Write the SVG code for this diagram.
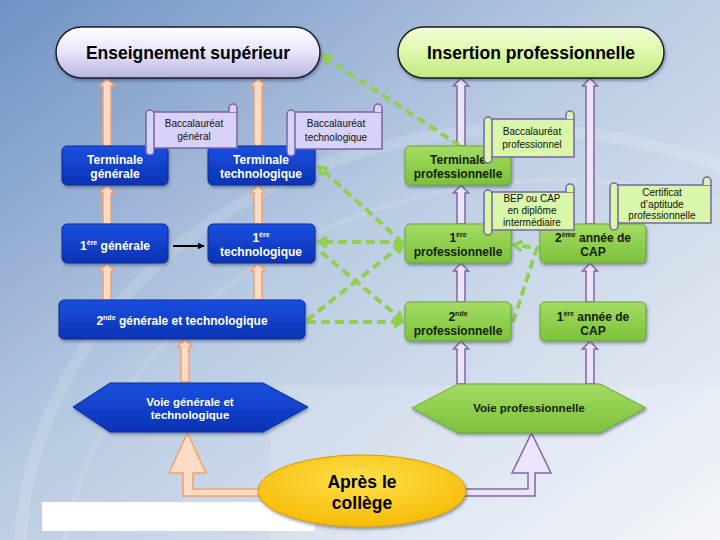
<svg xmlns="http://www.w3.org/2000/svg" width="720" height="540" viewBox="0 0 720 540">
<defs>
  <linearGradient id="bg" x1="0" y1="0" x2="1" y2="1">
    <stop offset="0" stop-color="#6f92c4"/>
    <stop offset="0.45" stop-color="#b9cbe2"/>
    <stop offset="1" stop-color="#f2f5f9"/>
  </linearGradient>
  <linearGradient id="gBlue" x1="0" y1="0" x2="0" y2="1">
    <stop offset="0" stop-color="#1a4fe0"/>
    <stop offset="1" stop-color="#0a33b4"/>
  </linearGradient>
  <linearGradient id="gGreen" x1="0" y1="0" x2="0" y2="1">
    <stop offset="0" stop-color="#a4dc62"/>
    <stop offset="1" stop-color="#7cc23c"/>
  </linearGradient>
  <linearGradient id="gLav" x1="0" y1="0" x2="0" y2="1">
    <stop offset="0" stop-color="#ffffff"/>
    <stop offset="0.5" stop-color="#e6e4fa"/>
    <stop offset="1" stop-color="#b8b4e0"/>
  </linearGradient>
  <linearGradient id="gLime" x1="0" y1="0" x2="0" y2="1">
    <stop offset="0" stop-color="#f4ffd8"/>
    <stop offset="0.5" stop-color="#ddf8a8"/>
    <stop offset="1" stop-color="#bfe880"/>
  </linearGradient>
  <radialGradient id="gYellow" cx="0.5" cy="0.35" r="0.7">
    <stop offset="0" stop-color="#ffe04a"/>
    <stop offset="1" stop-color="#f6b800"/>
  </radialGradient>
  <filter id="sh" x="-10%" y="-10%" width="130%" height="140%">
    <feDropShadow dx="1" dy="2" stdDeviation="1.5" flood-color="#203050" flood-opacity="0.45"/>
  </filter>
  <marker id="gh" viewBox="0 0 12 12" refX="10" refY="6" markerWidth="12" markerHeight="12" markerUnits="userSpaceOnUse" orient="auto">
    <path d="M2,1 L10,6 L2,11" fill="none" stroke="#8fd050" stroke-width="3.5" stroke-linejoin="miter"/>
  </marker>
  <marker id="bh" viewBox="0 0 10 10" refX="9" refY="5" markerWidth="7" markerHeight="7" markerUnits="userSpaceOnUse" orient="auto">
    <path d="M0,0 L10,5 L0,10 Z" fill="#000"/>
  </marker>
  <style>
    .blue{fill:url(#gBlue);stroke:#0a2a9a;stroke-width:1;filter:url(#sh)}
    .green{fill:url(#gGreen);stroke:#6aa830;stroke-width:1;filter:url(#sh)}
    .tw{font-family:"Liberation Sans",Arial,sans-serif;font-weight:bold;font-size:12px;fill:#ffffff;text-anchor:middle}
    .tg{font-family:"Liberation Sans",Arial,sans-serif;font-weight:bold;font-size:12px;fill:#14200a;text-anchor:middle}
    .th{font-family:"Liberation Sans",Arial,sans-serif;font-weight:bold;font-size:17.5px;fill:#000;text-anchor:middle}
    .ts{font-family:"Liberation Sans Narrow","Liberation Sans",Arial,sans-serif;font-size:10px;fill:#111;text-anchor:middle}
    .scL{fill:#d6d2f8;stroke:#7a62a6;stroke-width:1.5}
    .scG{fill:#d8f7a8;stroke:#7a62a6;stroke-width:1.5}
    .oa{fill:#fcdcc6;stroke:#f2a070;stroke-width:1.5}
    .pa{fill:#ebe4fa;stroke:#8066a8;stroke-width:1.5}
    .gd{fill:none;stroke:#8fd050;stroke-width:4;stroke-dasharray:9 5}
  </style>
</defs>

<!-- background -->
<rect width="720" height="540" fill="url(#bg)"/>
<ellipse cx="520" cy="560" rx="500" ry="430" fill="none" stroke="#ffffff" stroke-opacity="0.14" stroke-width="12"/>
<ellipse cx="560" cy="600" rx="500" ry="420" fill="none" stroke="#ffffff" stroke-opacity="0.1" stroke-width="5"/>
<rect x="270" y="386" width="450" height="154" fill="#ffffff" opacity="0.15"/>
<rect x="42" y="502" width="273" height="29" fill="#ffffff"/>

<!-- connectors -->
<g id="connectors">
  <!-- orange hollow arrows -->
  <path class="oa" d="M103,146 V86 H99.5 L107,78 L114.5,86 H111 V146 Z"/>
  <path class="oa" d="M254,146 V86 H250.5 L258,78 L265.5,86 H262 V146 Z"/>
  <path class="oa" d="M103,224 V193 H99.5 L107,185 L114.5,193 H111 V224 Z"/>
  <path class="oa" d="M254,224 V193 H250.5 L258,185 L265.5,193 H262 V224 Z"/>
  <path class="oa" d="M103,300 V271 H99.5 L107,263 L114.5,271 H111 V300 Z"/>
  <path class="oa" d="M254,300 V271 H250.5 L258,263 L265.5,271 H262 V300 Z"/>
  <path class="oa" d="M181,382 V347 H177.5 L185,339 L192.5,347 H189 V382 Z"/>
  <path class="oa" d="M262,489 H193 V473 H206 L187.5,433 L169,473 H183 V496 H262 Z"/>
  <!-- purple hollow arrows -->
  <path class="pa" d="M457,146 V86 H453.5 L461,78 L468.5,86 H465 V146 Z"/>
  <path class="pa" d="M586,224 V86 H582.5 L590,78 L597.5,86 H594 V224 Z"/>
  <path class="pa" d="M457,224 V193 H453.5 L461,185 L468.5,193 H465 V224 Z"/>
  <path class="pa" d="M457,302 V271 H453.5 L461,263 L468.5,271 H465 V302 Z"/>
  <path class="pa" d="M586,302 V271 H582.5 L590,263 L597.5,271 H594 V302 Z"/>
  <path class="pa" d="M457,384 V349 H453.5 L461,341 L468.5,349 H465 V384 Z"/>
  <path class="pa" d="M586,384 V349 H582.5 L590,341 L597.5,349 H594 V384 Z"/>
  <path class="pa" d="M465,489 H528 V473 H512 L531.5,433 L551,473 H535 V496 H465 Z"/>
  <!-- black arrow -->
  <line x1="173" y1="246" x2="204" y2="246" stroke="#000" stroke-width="2" marker-end="url(#bh)"/>
  <!-- green dashed -->
  <path class="gd" d="M460,146 L323,56" marker-end="url(#gh)"/>
  <path class="gd" d="M403,243 L319,167" marker-end="url(#gh)"/>
  <path class="gd" d="M403,242 L319,242" marker-end="url(#gh)"/>
  <path class="gd" d="M307,320 L402,245" marker-end="url(#gh)"/>
  <path class="gd" d="M307,322 L402,322" marker-end="url(#gh)"/>
  <path class="gd" d="M321,252 L402,320" marker-end="url(#gh)"/>
  <path class="gd" d="M513,322 L537,248 L514,245" marker-end="url(#gh)"/>
</g>

<!-- heading pills -->
<g id="ens-sup">
  <rect x="56" y="27" width="264" height="51" rx="25.5" fill="url(#gLav)" stroke="#1a1a2a" stroke-width="1.5" filter="url(#sh)"/>
  <text class="th" x="188" y="59">Enseignement supérieur</text>
</g>
<g id="insertion">
  <rect x="398" y="27" width="266" height="51" rx="25.5" fill="url(#gLime)" stroke="#1a1a1a" stroke-width="1.5" filter="url(#sh)"/>
  <text class="th" x="531" y="59">Insertion professionnelle</text>
</g>

<!-- blue nodes -->
<g id="term-gen">
  <rect class="blue" x="62" y="146" width="106" height="39" rx="5"/>
  <text class="tw" x="115" y="164">Terminale</text>
  <text class="tw" x="115" y="178">générale</text>
</g>
<g id="term-tech">
  <rect class="blue" x="208" y="146" width="107" height="39" rx="5"/>
  <text class="tw" x="261" y="164">Terminale</text>
  <text class="tw" x="261" y="178">technologique</text>
</g>
<g id="prem-gen">
  <rect class="blue" x="62" y="224" width="106" height="39" rx="5"/>
  <text class="tw" x="115" y="250">1<tspan font-size="7" dy="-5">ère</tspan><tspan dy="5"> générale</tspan></text>
</g>
<g id="prem-tech">
  <rect class="blue" x="208" y="224" width="107" height="39" rx="5"/>
  <text class="tw" x="261" y="242">1<tspan font-size="7" dy="-5">ère</tspan></text>
  <text class="tw" x="261" y="256">technologique</text>
</g>
<g id="seconde-gt">
  <rect class="blue" x="59" y="300" width="246" height="39" rx="5"/>
  <text class="tw" x="182" y="325">2<tspan font-size="7" dy="-5">nde</tspan><tspan dy="5"> générale et technologique</tspan></text>
</g>

<!-- green nodes -->
<g id="term-pro">
  <rect class="green" x="405" y="146" width="106" height="39" rx="5"/>
  <text class="tg" x="458" y="164">Terminale</text>
  <text class="tg" x="458" y="178">professionnelle</text>
</g>
<g id="prem-pro">
  <rect class="green" x="405" y="224" width="106" height="39" rx="5"/>
  <text class="tg" x="458" y="242">1<tspan font-size="7" dy="-5">ère</tspan></text>
  <text class="tg" x="458" y="256">professionnelle</text>
</g>
<g id="seconde-pro">
  <rect class="green" x="405" y="302" width="106" height="39" rx="5"/>
  <text class="tg" x="458" y="321">2<tspan font-size="7" dy="-5">nde</tspan></text>
  <text class="tg" x="458" y="335">professionnelle</text>
</g>
<g id="cap2">
  <rect class="green" x="540" y="224" width="106" height="39" rx="5"/>
  <text class="tg" x="593" y="242">2<tspan font-size="7" dy="-5">ème</tspan><tspan dy="5"> année de</tspan></text>
  <text class="tg" x="593" y="256">CAP</text>
</g>
<g id="cap1">
  <rect class="green" x="540" y="302" width="106" height="39" rx="5"/>
  <text class="tg" x="593" y="321">1<tspan font-size="7" dy="-5">ère</tspan><tspan dy="5"> année de</tspan></text>
  <text class="tg" x="593" y="335">CAP</text>
</g>

<!-- hexagons -->
<g id="voie-gt">
  <polygon points="73,407 110,383 263,383 308,407 263,432 110,432" fill="url(#gBlue)" stroke="#0a2a9a" stroke-width="1" filter="url(#sh)"/>
  <text class="tw" x="190" y="406" style="font-size:11.5px">Voie générale et</text>
  <text class="tw" x="190" y="419" style="font-size:11.5px">technologique</text>
</g>
<g id="voie-pro">
  <polygon points="412,408 458,384 600,384 646,408 600,433 458,433" fill="url(#gGreen)" stroke="#6aa830" stroke-width="1" filter="url(#sh)"/>
  <text class="tg" x="529" y="412" style="font-size:11.5px">Voie professionnelle</text>
</g>

<!-- ellipse -->
<g id="apres-college">
  <ellipse cx="362" cy="491" rx="104" ry="36" fill="url(#gYellow)" stroke="#d89a00" stroke-width="1" filter="url(#sh)"/>
  <text class="th" x="362" y="488">Après le</text>
  <text class="th" x="362" y="509">collège</text>
</g>

<!-- scrolls -->
<g id="bac-gen">
  <rect class="scL" x="150" y="112" width="87" height="36"/>
  <path class="scL" d="M229,112 V108 a4,4 0 0 1 8,0 V112"/>
  <rect class="scL" x="146" y="110" width="8" height="45" rx="4"/>
  <text class="ts" x="194" y="127">Baccalauréat</text>
  <text class="ts" x="194" y="140">général</text>
</g>
<g id="bac-tech">
  <rect class="scL" x="291" y="112" width="91" height="37"/>
  <path class="scL" d="M374,112 V108 a4,4 0 0 1 8,0 V112"/>
  <rect class="scL" x="287" y="110" width="8" height="46" rx="4"/>
  <text class="ts" x="336" y="127">Baccalauréat</text>
  <text class="ts" x="336" y="141">technologique</text>
</g>
<g id="bac-pro">
  <rect class="scG" x="488" y="119" width="86" height="38"/>
  <path class="scG" d="M566,119 V115 a4,4 0 0 1 8,0 V119"/>
  <rect class="scG" x="484" y="117" width="8" height="46" rx="4"/>
  <text class="ts" x="532" y="135">Baccalauréat</text>
  <text class="ts" x="532" y="148">professionnel</text>
</g>
<g id="bep">
  <rect class="scG" x="488" y="192" width="86" height="38"/>
  <path class="scG" d="M566,192 V188 a4,4 0 0 1 8,0 V192"/>
  <rect class="scG" x="484" y="190" width="8" height="45" rx="4"/>
  <text class="ts" x="532" y="202">BEP ou CAP</text>
  <text class="ts" x="532" y="214">en diplôme</text>
  <text class="ts" x="532" y="226">intermédiaire</text>
</g>
<g id="cap-cert">
  <rect class="scG" x="614" y="185" width="97" height="38"/>
  <path class="scG" d="M703,185 V181 a4,4 0 0 1 8,0 V185"/>
  <rect class="scG" x="610" y="183" width="8" height="47" rx="4"/>
  <text class="ts" x="662" y="196">Certificat</text>
  <text class="ts" x="662" y="208">d’aptitude</text>
  <text class="ts" x="662" y="219">professionnelle</text>
</g>
</svg>
